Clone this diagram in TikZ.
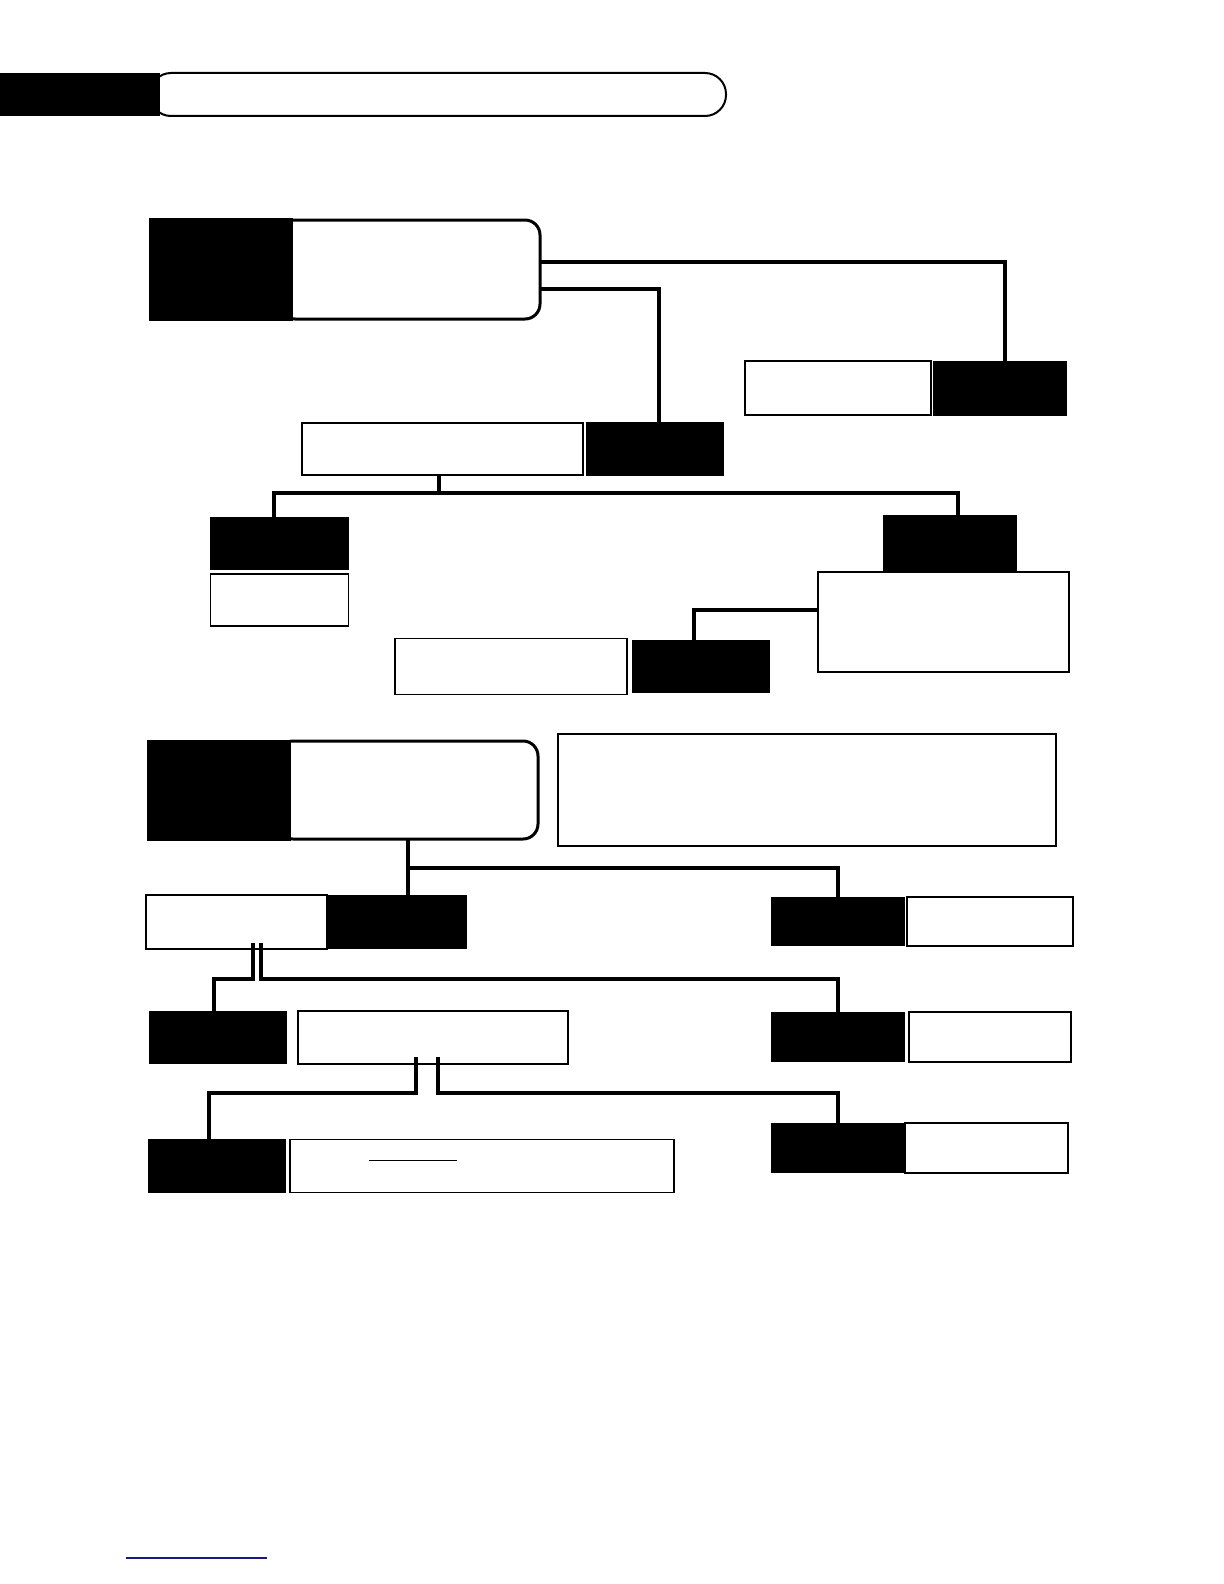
\documentclass[tikz,border=0pt]{standalone}
\usetikzlibrary{positioning}
\definecolor{navy}{RGB}{24,24,130}
\begin{document}
\begin{tikzpicture}[x=0.5pt,y=-0.5pt,
    every node/.style={inner sep=0pt,outer sep=0pt,anchor=north west},
    wh/.style 2 args={minimum width=#1,minimum height=#2},
    keybox/.style={fill=black},
    textbox/.style={draw,line width=0.75pt,fill=white},
    headbox/.style={draw,line width=1.5pt,fill=white,rounded corners=7.5pt},
    link/.style={line width=2pt}]

  \useasboundingbox (0,0) rectangle (1224,1584);

  % title bar
  \node[headbox,line width=1pt,rounded corners=10.5pt,wh={288pt}{21.5pt}](T) at (150,73) {};
  \node[keybox,wh={80pt}{21.5pt}](Tk) at (0,73) {};

  % first tree
  \node[headbox,wh={130pt}{49.5pt}](A1t) at (280,220) {};
  \node[keybox,wh={72pt}{51.5pt}](A1) at (149,218) {};

  \node[textbox,wh={93pt}{27pt}](B2t) at (745,361) {};
  \node[keybox,wh={67pt}{27.5pt}](B2) [right=1pt of B2t] {};
  \node[textbox,wh={140.5pt}{26pt}](B1t) at (302,423) {};
  \node[keybox,wh={69pt}{27pt}](B1) [right=1.5pt of B1t] {};

  \node[keybox,wh={69.5pt}{26.5pt}](C1) at (210,517) {};
  \node[textbox,wh={69pt}{26pt}](C1t) [below=2pt of C1] {};
  \node[keybox,wh={67pt}{28pt}](C2) at (883,515) {};
  \node[textbox,wh={125.5pt}{50pt}](C2t) at (818,572) {};
  \node[keybox,wh={69pt}{26.5pt}](D1) at (632,640) {};
  \node[textbox,wh={116pt}{28pt}](D1t) [left=2.5pt of D1] {};

  \draw[link] ([yshift=3.75pt]A1t.east) -| ([xshift=2.5pt]B2.north);
  \draw[link] ([yshift=-9.75pt]A1t.east) -| ([xshift=2pt]B1.north);
  \draw[link] ([xshift=-1.75pt]B1t.south) -- ++(0,18) coordinate (B1f) -| ([xshift=-3pt]C1.north);
  \draw[link] (B1f) -| ([xshift=4pt]C2.north);
  \draw[link] ([yshift=6pt]C2t.west) -| ([xshift=-3.5pt]D1.north);

  % second tree
  \node[headbox,wh={130pt}{49pt}](A2t) at (278,741) {};
  \node[keybox,wh={72pt}{50.5pt}](A2) at (147,740) {};
  \node[textbox,wh={249pt}{56pt}](N) at (558,734) {};

  \node[textbox,wh={90.5pt}{27pt}](E1t) at (146,895) {};
  \node[keybox,wh={70pt}{27pt}](E1) [right=0pt of E1t] {};
  \node[keybox,wh={67pt}{24.5pt}](E2) at (771,897) {};
  \node[textbox,wh={83pt}{24.5pt}](E2t) [right=1pt of E2] {};

  \node[keybox,wh={69pt}{26.5pt}](F1) at (149,1011) {};
  \node[textbox,wh={135pt}{26.5pt}](F1t) [right=5.5pt of F1] {};
  \node[keybox,wh={67pt}{25pt}](F2) at (771,1012) {};
  \node[textbox,wh={81pt}{25pt}](F2t) [right=2pt of F2] {};

  \node[keybox,wh={69pt}{27pt}](G1) at (148,1139) {};
  \node[textbox,wh={192pt}{26.5pt}](G1t) [right=2pt of G1] {};
  \node[keybox,wh={67pt}{25pt}](G2) at (771,1123) {};
  \node[textbox,wh={81.5pt}{25pt}](G2t) [right=0pt of G2] {};
  \draw[line width=0.5pt] (369,1160) -- (457,1160);

  \draw[link] (A2t.south) -- ++(0,29) coordinate (A2f) -- (A2f |- E1.north);
  \draw[link] (A2f) -| (E2.north);
  \draw[link] ([xshift=8.25pt,yshift=3pt]E1t.south) -- ++(0,36) -| ([xshift=-2pt]F1.north);
  \draw[link] ([xshift=12.25pt,yshift=3pt]E1t.south) -- ++(0,36) -| (F2.north);
  \draw[link] ([xshift=-8.5pt,yshift=3.5pt]F1t.south) -- ++(0,36) -| ([xshift=-4pt]G1.north);
  \draw[link] ([xshift=2.5pt,yshift=3.5pt]F1t.south) -- ++(0,36) -| (G2.north);

  % footer rule
  \draw[navy,line width=1pt] (126,1558) -- (267,1558);

\end{tikzpicture}
\end{document}
